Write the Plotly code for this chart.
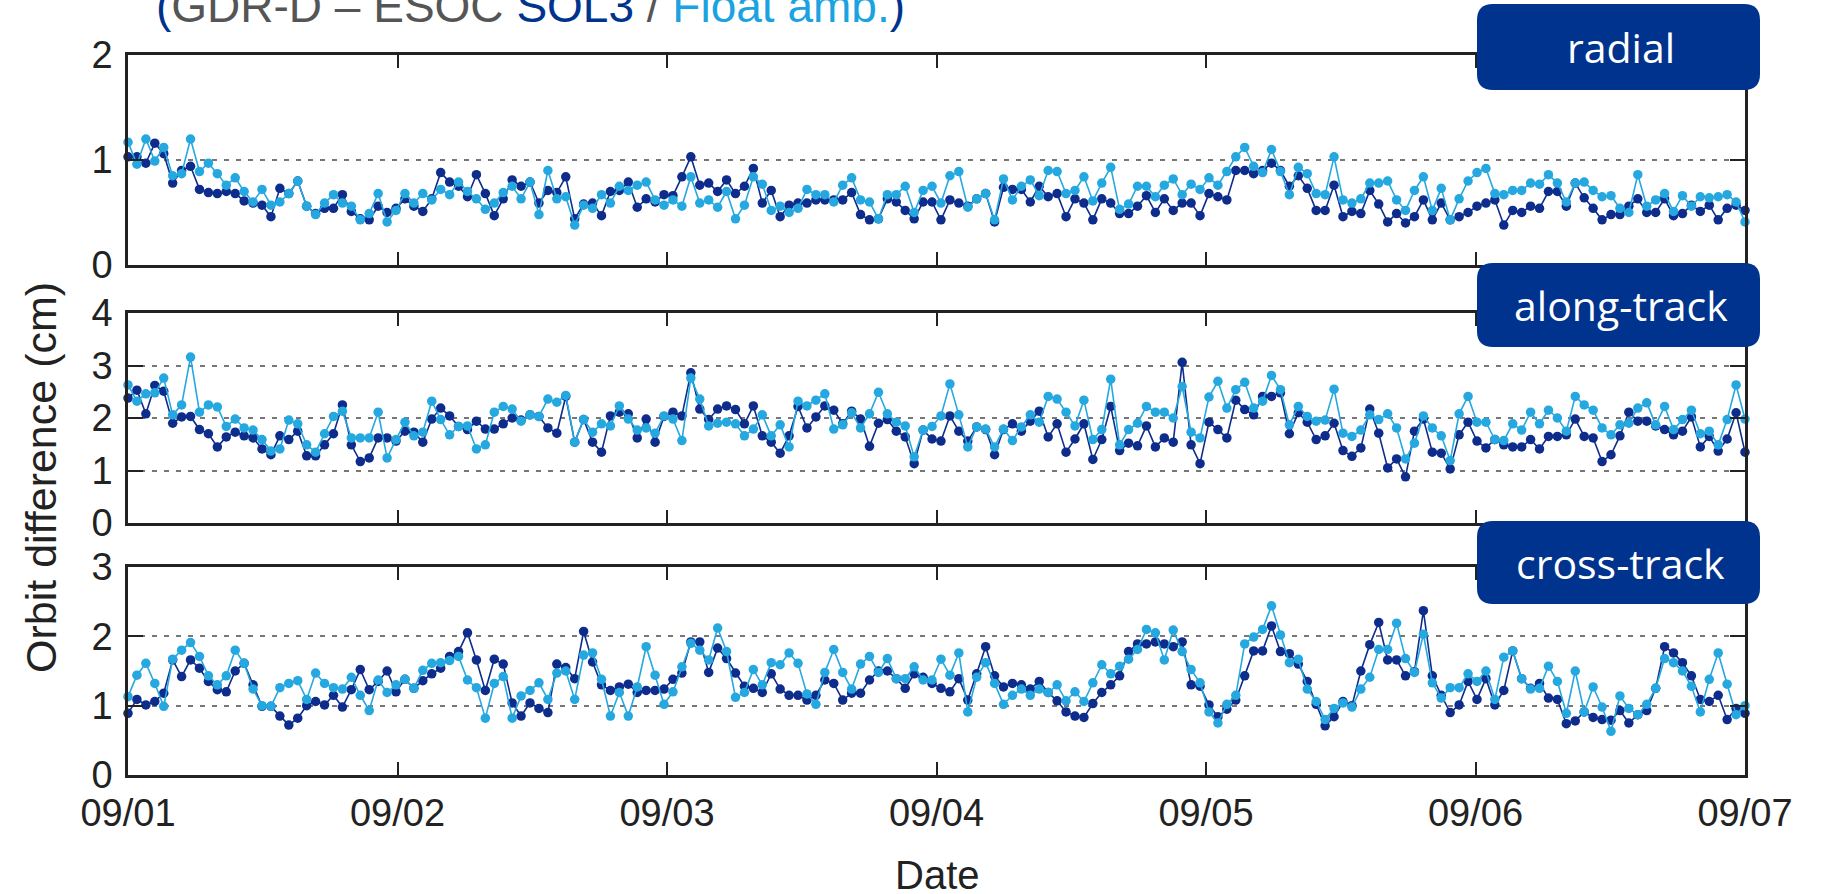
import pandas as pd
import plotly.graph_objects as go

# ---------------- data ----------------
radial_sol3 = [1.03,1.03,0.97,1.16,1.06,0.78,0.9,0.94,0.72,0.69,
 0.68,0.7,0.68,0.61,0.59,0.57,0.46,0.73,0.68,0.8,
 0.56,0.49,0.54,0.54,0.67,0.51,0.44,0.43,0.56,0.5,
 0.54,0.63,0.56,0.51,0.63,0.88,0.79,0.75,0.65,0.86,
 0.68,0.47,0.63,0.81,0.75,0.79,0.59,0.71,0.69,0.84,
 0.44,0.58,0.59,0.47,0.7,0.71,0.79,0.55,0.63,0.6,
 0.67,0.66,0.84,1.03,0.76,0.78,0.7,0.81,0.68,0.75,
 0.92,0.59,0.71,0.46,0.57,0.59,0.59,0.62,0.62,0.62,
 0.62,0.69,0.48,0.43,0.44,0.63,0.6,0.52,0.44,0.6,
 0.6,0.43,0.62,0.59,0.56,0.63,0.68,0.41,0.74,0.72,
 0.72,0.6,0.75,0.65,0.68,0.46,0.63,0.59,0.43,0.63,
 0.59,0.49,0.49,0.56,0.66,0.5,0.63,0.52,0.59,0.59,
 0.47,0.68,0.65,0.62,0.9,0.9,0.87,0.9,0.97,0.9,
 0.75,0.85,0.73,0.52,0.52,0.76,0.46,0.51,0.49,0.71,
 0.58,0.41,0.49,0.4,0.46,0.62,0.43,0.59,0.43,0.46,
 0.5,0.56,0.59,0.62,0.38,0.52,0.5,0.56,0.54,0.7,
 0.7,0.56,0.78,0.64,0.54,0.43,0.48,0.48,0.56,0.63,
 0.5,0.5,0.63,0.47,0.49,0.57,0.51,0.57,0.43,0.54,
 0.57,0.52]
radial_float = [1.17,0.96,1.2,0.99,1.12,0.85,0.87,1.2,0.89,0.97,
 0.87,0.76,0.83,0.7,0.6,0.72,0.57,0.6,0.68,0.8,
 0.56,0.48,0.59,0.67,0.59,0.56,0.43,0.49,0.68,0.41,
 0.52,0.68,0.59,0.68,0.62,0.72,0.67,0.79,0.7,0.63,
 0.53,0.59,0.69,0.75,0.63,0.79,0.48,0.9,0.63,0.65,
 0.38,0.57,0.54,0.67,0.59,0.75,0.71,0.76,0.79,0.62,
 0.57,0.62,0.56,0.84,0.59,0.62,0.55,0.7,0.44,0.57,
 0.84,0.77,0.52,0.56,0.5,0.54,0.72,0.67,0.67,0.6,
 0.76,0.83,0.62,0.6,0.44,0.67,0.67,0.75,0.5,0.71,
 0.75,0.59,0.85,0.89,0.55,0.63,0.68,0.43,0.82,0.62,
 0.75,0.81,0.66,0.9,0.89,0.68,0.71,0.84,0.61,0.78,
 0.93,0.53,0.58,0.75,0.75,0.65,0.76,0.82,0.67,0.77,
 0.72,0.83,0.76,0.89,1.03,1.12,0.94,0.88,1.1,0.89,
 0.67,0.93,0.87,0.68,0.67,1.03,0.62,0.59,0.63,0.78,
 0.78,0.8,0.62,0.52,0.71,0.84,0.52,0.73,0.43,0.63,
 0.8,0.88,0.92,0.68,0.67,0.71,0.71,0.78,0.77,0.86,
 0.78,0.6,0.78,0.79,0.71,0.65,0.66,0.54,0.5,0.86,
 0.56,0.62,0.68,0.51,0.66,0.56,0.65,0.64,0.65,0.67,
 0.6,0.41]
along_sol3 = [2.38,2.53,2.08,2.62,2.51,1.9,2.02,2.03,1.78,1.7,
 1.45,1.64,1.73,1.66,1.62,1.41,1.3,1.66,1.59,1.75,
 1.28,1.28,1.49,1.7,2.25,1.49,1.17,1.24,1.62,1.62,
 1.56,1.75,1.73,1.54,1.98,2.19,2.04,1.84,1.78,1.94,
 1.79,1.79,1.89,2.0,1.96,2.06,2.03,1.81,1.71,2.41,
 1.54,1.97,1.54,1.35,2.04,2.11,2.08,1.62,1.98,1.54,
 2.03,2.11,2.04,2.86,2.17,1.97,2.17,2.23,2.16,1.89,
 2.23,1.66,1.54,1.33,1.66,2.22,1.81,2.02,2.23,2.15,
 1.89,2.13,1.98,1.46,1.9,1.97,1.75,1.64,1.13,1.77,
 1.6,1.56,2.04,1.75,1.56,1.83,1.78,1.3,1.78,1.89,
 1.75,1.94,2.13,1.64,1.89,1.35,1.6,1.89,1.21,1.59,
 2.22,1.38,1.52,1.47,1.85,1.45,1.62,1.54,3.06,1.49,
 1.13,1.92,1.78,1.62,2.34,2.16,2.06,2.41,2.41,2.48,
 1.7,2.1,1.92,1.59,1.66,1.9,1.38,1.27,1.43,2.17,
 1.71,1.05,1.22,0.88,1.75,1.98,1.35,1.33,1.03,1.68,
 1.92,1.56,1.43,1.59,1.49,1.45,1.45,1.59,1.41,1.65,
 1.65,1.68,1.98,1.65,1.62,1.17,1.3,1.66,2.11,1.94,
 1.94,1.85,1.78,1.68,1.75,2.02,1.45,1.65,1.37,1.6,
 2.1,1.35]
along_float = [2.63,2.32,2.46,2.48,2.76,2.06,2.25,3.16,2.11,2.25,
 2.21,1.84,1.98,1.81,1.77,1.59,1.37,1.41,1.96,1.89,
 1.49,1.35,1.7,2.03,2.13,1.62,1.62,1.62,2.11,1.24,
 1.59,1.92,1.66,1.73,2.32,1.97,1.68,1.84,1.85,1.41,
 1.49,2.11,2.22,2.17,1.94,2.06,2.03,2.36,2.3,2.43,
 1.54,1.97,1.73,1.89,1.85,2.23,1.98,1.77,1.81,1.71,
 2.04,1.98,1.57,2.76,2.36,1.85,1.9,1.92,1.89,1.66,
 1.79,2.06,1.66,1.87,1.45,2.32,2.23,2.34,2.46,1.79,
 1.87,2.1,1.81,2.08,2.49,2.08,1.92,1.85,1.26,1.77,
 1.84,2.04,2.65,2.06,1.45,1.83,1.79,1.45,1.79,1.57,
 1.83,2.06,1.92,2.41,2.36,2.11,1.85,2.34,1.59,1.78,
 2.74,1.49,1.78,1.9,2.22,2.11,2.11,2.0,2.6,1.73,
 1.62,2.4,2.7,2.19,2.54,2.68,2.19,2.32,2.81,2.54,
 1.87,2.22,2.03,1.94,1.96,2.55,1.71,1.65,1.77,2.06,
 1.97,2.08,1.81,1.22,1.52,2.04,1.81,1.66,1.19,2.08,
 2.41,1.92,1.92,1.59,1.57,1.89,1.77,2.11,1.89,2.15,
 2.0,1.75,2.41,2.25,2.15,1.81,1.68,1.87,1.9,2.19,
 2.29,1.87,2.22,1.78,1.97,2.15,1.7,1.75,1.49,1.97,
 2.63,1.98]
cross_sol3 = [0.89,1.09,1.01,1.06,1.18,1.66,1.42,1.66,1.54,1.35,
 1.23,1.2,1.5,1.61,1.3,0.99,0.99,0.85,0.72,0.82,
 1.0,1.06,1.01,1.15,0.98,1.23,1.52,1.23,1.35,1.5,
 1.2,1.38,1.25,1.36,1.46,1.54,1.71,1.78,2.05,1.66,
 1.22,1.67,1.6,1.04,0.85,1.04,0.96,0.9,1.6,1.55,
 1.39,2.07,1.63,1.3,1.22,1.27,1.31,1.19,1.22,1.22,
 1.24,1.38,1.47,1.92,1.92,1.48,1.83,1.68,1.47,1.28,
 1.25,1.19,1.46,1.24,1.15,1.15,1.08,1.15,1.37,1.32,
 1.08,1.18,1.18,1.37,1.5,1.5,1.39,1.25,1.46,1.41,
 1.32,1.25,1.2,1.39,1.08,1.46,1.85,1.43,1.27,1.32,
 1.3,1.24,1.35,1.19,1.07,0.91,0.85,0.83,1.03,1.19,
 1.3,1.43,1.78,1.89,1.89,1.92,1.89,1.85,1.92,1.3,
 1.28,1.01,0.84,0.95,1.08,1.43,1.79,1.79,2.15,1.78,
 1.75,1.6,1.35,1.02,0.71,0.84,1.06,1.0,1.5,1.88,
 2.2,1.66,1.66,1.43,1.49,2.37,1.43,1.15,0.9,1.01,
 1.35,1.09,1.39,1.01,1.22,1.79,1.39,1.25,1.32,1.11,
 1.09,0.74,0.78,0.91,0.83,0.8,0.79,0.93,0.75,0.87,
 0.93,1.25,1.85,1.76,1.62,1.43,1.09,1.06,1.15,0.8,
 0.96,0.89]
cross_float = [1.13,1.44,1.61,1.32,0.99,1.67,1.8,1.91,1.71,1.43,
 1.3,1.43,1.8,1.61,1.24,1.0,0.99,1.26,1.32,1.36,
 1.09,1.47,1.32,1.26,1.24,1.41,1.15,0.93,1.37,1.19,
 1.3,1.38,1.25,1.51,1.61,1.62,1.65,1.71,1.37,1.26,
 0.82,1.32,1.42,0.82,1.14,1.22,1.33,1.09,1.47,1.5,
 1.09,1.73,1.76,1.38,0.85,1.19,0.85,1.27,1.85,1.44,
 1.02,1.2,1.56,1.9,1.8,1.66,2.12,1.78,1.12,1.19,
 1.52,1.3,1.62,1.59,1.76,1.61,1.17,1.02,1.48,1.81,
 1.48,1.24,1.6,1.71,1.48,1.68,1.39,1.39,1.56,1.37,
 1.37,1.67,1.44,1.76,0.91,1.41,1.62,1.32,1.02,1.15,
 1.24,1.15,1.24,1.19,1.3,1.07,1.2,1.06,1.33,1.59,
 1.46,1.57,1.67,1.81,2.1,2.05,1.66,2.09,1.78,1.52,
 1.33,0.91,0.75,1.02,1.15,1.89,1.99,2.1,2.44,2.02,
 1.62,1.67,1.24,1.06,0.8,0.96,1.04,0.98,1.24,1.41,
 1.81,1.81,2.19,1.68,1.48,2.03,1.33,1.11,1.26,1.26,
 1.46,1.35,1.5,1.09,1.7,1.79,1.39,1.24,1.25,1.57,
 1.35,0.89,1.5,0.91,1.27,0.98,0.63,1.14,0.96,0.87,
 1.02,1.25,1.68,1.62,1.5,1.28,0.91,1.38,1.76,1.31,
 0.87,1.0]

panel_names = ["radial", "along-track", "cross-track"]
panel_ranges = [[0, 2], [0, 4], [0, 3]]
series_sol3 = [radial_sol3, along_sol3, cross_sol3]
series_float = [radial_float, along_float, cross_float]
start_date, end_date = "2013-09-01", "2013-09-07"
times = pd.date_range(start_date, end_date, periods=len(radial_sol3))

# ---------------- style ----------------
W, H = 1837, 894
L, R, T, B = 128, 92, 55, 119
PW, PH = W - L - R, H - T - B
DARK = "#0d2c8c"
LIGHT = "#25a8e0"
BOX = "#00338d"
TICKFONT = "Liberation Sans, Arial, sans-serif"

def px_x(px):
    return (px - L) / PW

def px_y(py):
    return (H - B - py) / PH

# panel pixel extents (top, bottom)
panel_px = [(55, 265), (313, 523), (567, 775)]

fig = go.Figure()
for i in range(3):
    xa = "x" if i == 0 else f"x{i+1}"
    ya = "y" if i == 0 else f"y{i+1}"
    for vals, col, nm in [(series_sol3[i], DARK, "SOL3"), (series_float[i], LIGHT, "Float amb.")]:
        fig.add_trace(go.Scatter(
            x=times, y=vals, xaxis=xa, yaxis=ya, mode="lines+markers", name=nm,
            line=dict(color=col, width=1.6), marker=dict(color=col, size=9.5),
            showlegend=False, cliponaxis=False))

layout = dict(width=W, height=H, autosize=False, paper_bgcolor="white", plot_bgcolor="white",
              margin=dict(l=L, r=R, t=T, b=B), showlegend=False)
for i in range(3):
    top, bot = panel_px[i]
    xk = "xaxis" if i == 0 else f"xaxis{i+1}"
    yk = "yaxis" if i == 0 else f"yaxis{i+1}"
    ya = "y" if i == 0 else f"y{i+1}"
    xa = "x" if i == 0 else f"x{i+1}"
    layout[xk] = dict(domain=[0, 1], anchor=ya, type="date",
                      range=[start_date, end_date], dtick=86400000, tick0=start_date,
                      tickformat="%m/%d", ticks="inside", ticklen=13, tickwidth=2,
                      tickcolor="#222", showline=True, linecolor="#222", linewidth=2.5,
                      mirror="allticks", showgrid=False, zeroline=False,
                      showticklabels=(i == 2), ticklabelstandoff=3,
                      tickfont=dict(family=TICKFONT, size=38, color="#222"))
    if i > 0:
        layout[xk]["matches"] = "x"
    rng = panel_ranges[i]
    layout[yk] = dict(domain=[px_y(bot), px_y(top)], anchor=xa, range=rng,
                      tickvals=list(range(rng[0], rng[1] + 1)), ticks="inside", ticklen=15,
                      tickwidth=2, tickcolor="#222", showline=True, linecolor="#222",
                      linewidth=2.5, mirror="allticks", showgrid=True, gridcolor="#777",
                      gridwidth=1.5, griddash="5px,7px", zeroline=False,
                      ticklabelstandoff=5,
                      tickfont=dict(family=TICKFONT, size=38, color="#222"))
fig.update_layout(**layout)

# label boxes
def rounded_path(x0, y0, x1, y1, r):
    X0, X1 = px_x(x0), px_x(x1)
    Y0, Y1 = px_y(y0), px_y(y1)
    rx = r / PW
    ry = r / PH
    return (f"M {X0+rx},{Y0} L {X1-rx},{Y0} Q {X1},{Y0} {X1},{Y0-ry} "
            f"L {X1},{Y1+ry} Q {X1},{Y1} {X1-rx},{Y1} L {X0+rx},{Y1} "
            f"Q {X0},{Y1} {X0},{Y1+ry} L {X0},{Y0-ry} Q {X0},{Y0} {X0+rx},{Y0} Z")

box_px = [(4, 90), (263, 347), (521, 604)]
bx0, bx1 = 1477, 1760
for name, (y0, y1) in zip(panel_names, box_px):
    fig.add_shape(type="path", path=rounded_path(bx0, y0, bx1, y1, 16), xref="paper", yref="paper",
                  fillcolor=BOX, line=dict(width=0), layer="above")
    fig.add_annotation(x=px_x((bx0 + bx1) / 2 + 2), y=px_y((y0 + y1) / 2), xref="paper", yref="paper",
                       text=name, showarrow=False, xanchor="center", yanchor="middle",
                       font=dict(family="Open Sans, Noto Sans, sans-serif", size=41, color="white"))

# title (partly cut at top, as in the reference)
title = ('<span style="color:#00338d">(</span>'
         '<span style="color:#555555">GDR-D – ESOC </span>'
         '<span style="color:#00338d">SOL3</span>'
         '<span style="color:#555555"> / </span>'
         '<span style="color:#1aa3e0">Float amb.</span>'
         '<span style="color:#00338d">)</span>')
fig.add_annotation(x=px_x(154), y=px_y(34), xref="paper", yref="paper", text=title,
                   showarrow=False, xanchor="left", yanchor="bottom",
                   font=dict(family="Liberation Sans, Arial, sans-serif", size=46))

# axis titles
fig.add_annotation(x=px_x(41), y=px_y(478), xref="paper", yref="paper",
                   text="Orbit difference (cm)", textangle=-90, showarrow=False,
                   xanchor="center", yanchor="middle",
                   font=dict(family=TICKFONT, size=43, color="#222"))
fig.add_annotation(x=px_x(938), y=px_y(875), xref="paper", yref="paper",
                   text="Date", showarrow=False, xanchor="center", yanchor="middle",
                   font=dict(family=TICKFONT, size=40, color="#222"))

fig.write_html("out.html")
